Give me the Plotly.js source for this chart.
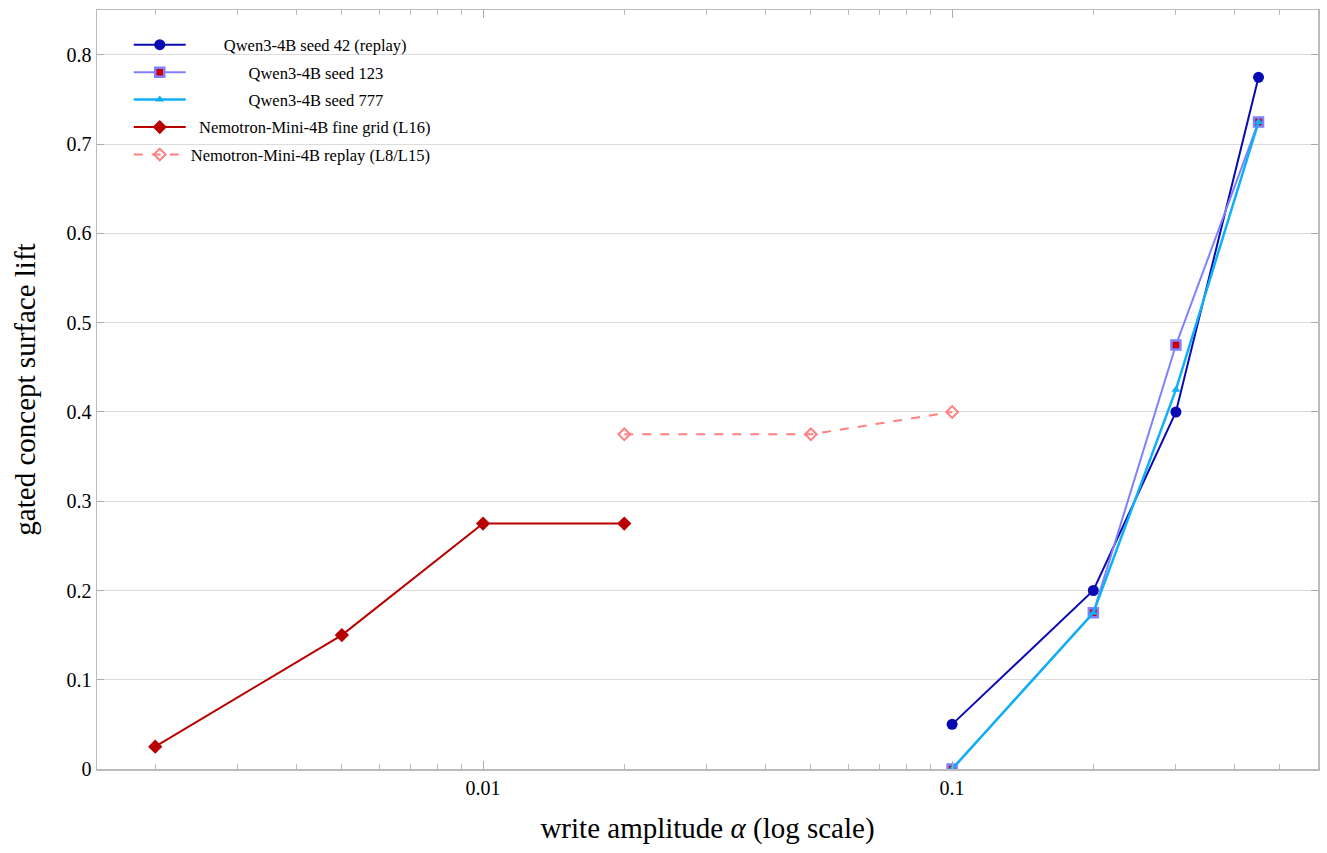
<!DOCTYPE html>
<html><head><meta charset="utf-8">
<script src="https://cdn.plot.ly/plotly-3.0.1.min.js"></script>
<style>html,body{margin:0;padding:0;background:#fff}#c{width:1327px;height:853px}</style>
</head><body><div id="c"></div>
<script>
const qwenAlpha = [0.1, 0.2, 0.3, 0.45];
const seed42 = [0.05, 0.2, 0.4, 0.775];
const seed123 = [0.0, 0.175, 0.475, 0.725];
const seed777 = [0.0, 0.175, 0.425, 0.725];
const nemoFineAlpha = [0.002, 0.005, 0.01, 0.02];
const nemoFine = [0.025, 0.15, 0.275, 0.275];
const nemoReplayAlpha = [0.02, 0.05, 0.1];
const nemoReplay = [0.375, 0.375, 0.4];
const seriesNames = ['Qwen3-4B seed 42 (replay)', 'Qwen3-4B seed 123', 'Qwen3-4B seed 777',
  'Nemotron-Mini-4B fine grid (L16)', 'Nemotron-Mini-4B replay (L8/L15)'];
const xTickVals = [0.01, 0.1];
const xTickText = ['0.01', '0.1'];
const xMinorVals = [0.002,0.003,0.004,0.005,0.006,0.007,0.008,0.009,0.02,0.03,0.04,0.05,0.06,0.07,0.08,0.09,0.2,0.3,0.4,0.5];
const yTickVals = [0,0.1,0.2,0.3,0.4,0.5,0.6,0.7,0.8];
const yTickText = ['0','0.1','0.2','0.3','0.4','0.5','0.6','0.7','0.8'];

const FONT = 'Liberation Serif, DejaVu Serif, serif';
// pad legend labels so they appear centred like the reference
const pads = [8, 14, 14, 2, 0];
const label = (i) => '\u00a0'.repeat(pads[i]) + seriesNames[i];
const traces = [
  {x: qwenAlpha, y: seed42, name: label(0), legendgroup: 'a', mode: 'lines+markers',
   line: {color: '#0a0ab4', width: 2}, marker: {symbol: 'circle', size: 11, color: '#0a0ab4'}},
  {x: qwenAlpha, y: seed123, name: label(1), legendgroup: 'b', mode: 'lines+markers',
   line: {color: '#8080ff', width: 2}, marker: {symbol: 'square', size: 9, color: '#cc0000', line: {color: '#8080ff', width: 2.5}}},
  {x: qwenAlpha, y: seed777, name: label(2), legendgroup: 'c', mode: 'lines+markers',
   line: {color: '#10b0f8', width: 2.5}, marker: {symbol: 'triangle-up', size: 8, color: '#10b0f8'}},
  {x: nemoFineAlpha, y: nemoFine, name: label(3), legendgroup: 'd', mode: 'lines+markers',
   line: {color: '#b80000', width: 2}, marker: {symbol: 'diamond', size: 11, color: '#b80000'}},
  {x: nemoReplayAlpha, y: nemoReplay, name: label(4), legendgroup: 'e', mode: 'lines+markers',
   line: {color: '#ff8080', width: 2, dash: 'dash'}, marker: {symbol: 'diamond-open', size: 9, color: '#ff8080', line: {color: '#ff8080', width: 2}}}
];
const layout = {
  width: 1327, height: 853,
  margin: {l: 97, r: 9, t: 10, b: 84},
  paper_bgcolor: '#fff', plot_bgcolor: '#fff',
  font: {family: FONT, color: '#000'},
  showlegend: true,
  legend: {x: 0.026, y: 0.977, xanchor: 'left', yanchor: 'top', bgcolor: 'rgba(255,255,255,0)',
    font: {family: FONT, size: 16.5, color: '#000'}, tracegroupgap: 3, itemwidth: 52},
  xaxis: {type: 'log', range: [Math.log10(0.001503), Math.log10(0.6026)],
    tickmode: 'array', tickvals: xTickVals, ticktext: xTickText,
    ticks: 'inside', ticklen: 8, tickcolor: '#aaa', tickwidth: 1,
    minor: {tickmode: 'array', tickvals: xMinorVals, ticks: 'inside', ticklen: 5, tickcolor: '#bbb', showgrid: false},
    showgrid: false, zeroline: false, showline: true, mirror: 'ticks', linecolor: '#bbb', linewidth: 1.5,
    tickfont: {size: 20, family: FONT}, automargin: false,
    title: {text: 'write amplitude <i>α</i> (log scale)', font: {size: 29, family: FONT}, standoff: 20}},
  yaxis: {range: [0, 0.8504], tickmode: 'array', tickvals: yTickVals, ticktext: yTickText,
    ticks: 'inside', ticklen: 7, tickcolor: '#aaa',
    showgrid: true, gridcolor: '#dcdcdc', gridwidth: 1, zeroline: false,
    showline: true, mirror: 'ticks', linecolor: '#bbb', linewidth: 1.5,
    tickfont: {size: 20, family: FONT}, automargin: false,
    title: {text: 'gated concept surface lift', font: {size: 29, family: FONT}, standoff: 22}}
};
Plotly.newPlot('c', traces, layout, {displayModeBar: false, staticPlot: true});
</script></body></html>
